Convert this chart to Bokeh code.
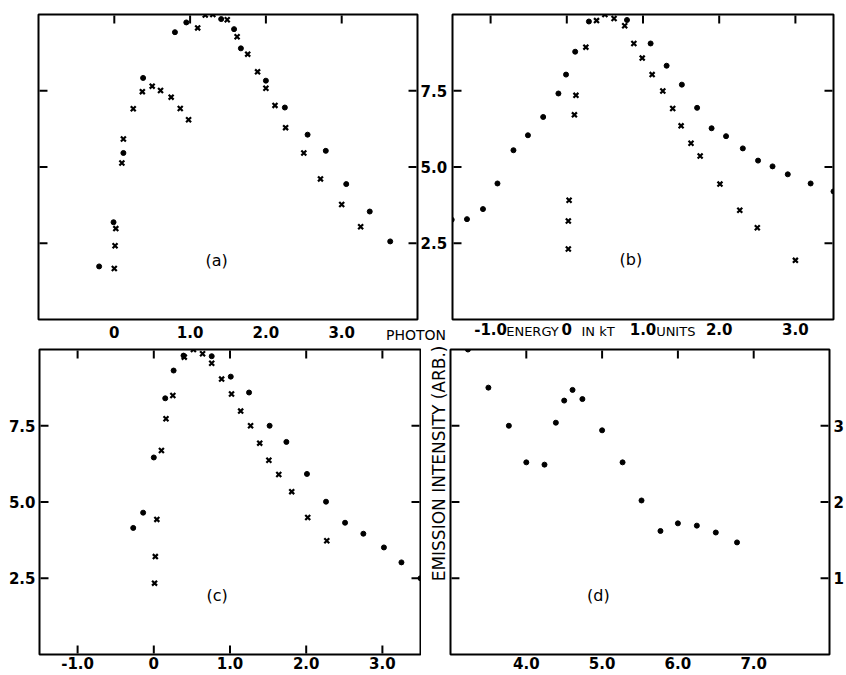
from bokeh.plotting import figure
from bokeh.layouts import row, column
from bokeh.models import LinearAxis, FixedTicker, Range1d, Label, Title
from bokeh.embed import file_html
from bokeh.resources import INLINE

# ---------------- data ----------------
a_dot_x = [-0.20, -0.01, 0.12, 0.38, 0.80, 0.95, 1.41, 1.58, 1.67, 2.00, 2.25, 2.55, 2.79, 3.06, 3.37, 3.64]
a_dot_y = [1.74, 3.19, 5.46, 7.92, 9.42, 9.74, 9.85, 9.52, 8.89, 7.83, 6.95, 6.06, 5.53, 4.44, 3.54, 2.56]
a_x_x = [0.00, 0.01, 0.02, 0.10, 0.12, 0.25, 0.37, 0.50, 0.61, 0.75, 0.87, 0.98, 1.10, 1.20, 1.30,
         1.49, 1.62, 1.76, 1.89, 2.00, 2.12, 2.26, 2.50, 2.72, 3.00, 3.25]
a_x_y = [1.67, 2.42, 2.98, 5.13, 5.92, 6.91, 7.47, 7.65, 7.51, 7.29, 6.92, 6.55, 9.56, 9.98, 10.0,
         9.83, 9.27, 8.70, 8.12, 7.58, 7.02, 6.29, 5.46, 4.61, 3.77, 3.04]

b_dot_x = [-1.51, -1.31, -1.10, -0.91, -0.70, -0.51, -0.31, -0.11, -0.01, 0.11, 0.29, 0.79, 1.10, 1.31,
           1.51, 1.71, 1.90, 2.09, 2.31, 2.51, 2.70, 2.90, 3.20, 3.50]
b_dot_y = [3.27, 3.29, 3.62, 4.46, 5.55, 6.04, 6.64, 7.41, 8.03, 8.78, 9.77, 9.82, 9.05, 8.32,
           7.70, 6.94, 6.27, 6.01, 5.61, 5.21, 5.02, 4.76, 4.46, 4.20]
b_x_x = [0.02, 0.02, 0.03, 0.10, 0.12, 0.25, 0.39, 0.50, 0.62, 0.76, 0.88, 0.99, 1.12, 1.26, 1.39,
         1.50, 1.63, 1.75, 2.01, 2.27, 2.50, 3.00]
b_x_y = [2.31, 3.23, 3.91, 6.71, 7.35, 8.93, 9.80, 10.0, 9.87, 9.63, 9.05, 8.57, 8.03, 7.49, 6.92,
         6.35, 5.78, 5.36, 4.44, 3.58, 3.01, 1.94]

c_dot_x = [-0.27, -0.14, 0.00, 0.15, 0.26, 0.39, 0.76, 1.01, 1.25, 1.52, 1.74, 2.01, 2.26, 2.51,
           2.75, 3.02, 3.25, 3.50]
c_dot_y = [4.15, 4.65, 6.46, 8.40, 9.31, 9.80, 9.78, 9.11, 8.59, 7.50, 6.97, 5.92, 5.01, 4.32,
           3.96, 3.51, 3.02, 2.50]
c_x_x = [0.01, 0.02, 0.04, 0.10, 0.16, 0.25, 0.40, 0.52, 0.64, 0.76, 0.89, 1.02, 1.14, 1.27, 1.39,
         1.51, 1.64, 1.81, 2.02, 2.27]
c_x_y = [2.34, 3.21, 4.43, 6.69, 7.73, 8.49, 9.75, 10.0, 9.86, 9.55, 9.03, 8.54, 7.98, 7.50, 6.93,
         6.37, 5.90, 5.34, 4.49, 3.73]

d_dot_x = [3.23, 3.50, 3.77, 4.00, 4.24, 4.39, 4.50, 4.61, 4.74, 5.00, 5.27, 5.52, 5.77, 6.00,
           6.25, 6.50, 6.78]
d_dot_y = [4.00, 3.50, 3.00, 2.52, 2.49, 3.04, 3.33, 3.47, 3.35, 2.94, 2.52, 2.02, 1.62, 1.72,
           1.69, 1.60, 1.47]

# tick values and labels
a_xticks = [0, 1, 2, 3]
a_xlabels = ["0", "1.0", "2.0", "3.0"]
bc_xticks = [-1, 0, 1, 2, 3]
bc_xlabels = ["-1.0", "0", "1.0", "2.0", "3.0"]
d_xticks = [4, 5, 6, 7]
d_xlabels = ["4.0", "5.0", "6.0", "7.0"]
abc_yticks = [2.5, 5.0, 7.5]
abc_ylabels = ["2.5", "5.0", "7.5"]
d_yticks = [1, 2, 3]
d_ylabels = ["1", "2", "3"]

# words of the shared x-axis title, placed between tick labels (x in panel data units)
a_word_x = [3.98]
a_words = ["PHOTON"]
b_word_x = [-0.45, 0.41, 1.43]
b_words = ["ENERGY", "IN kT", "UNITS"]
y_title = "EMISSION INTENSITY (ARB.)"

FONT = "DejaVu Sans"
TICK_SIZE = "15px"
TICK_LEN = 8  # px, inward


def label_axis(ax, ticks, labels, standoff=3, size=TICK_SIZE, style="bold"):
    ax.ticker = FixedTicker(ticks=ticks, minor_ticks=[])
    ax.major_tick_in = 0
    ax.major_tick_out = 0
    ax.minor_tick_in = 0
    ax.minor_tick_out = 0
    ax.major_tick_line_color = None
    ax.minor_tick_line_color = None
    ax.axis_line_color = None
    ax.major_label_text_font = FONT
    ax.major_label_text_font_style = style
    ax.major_label_text_color = "black"
    ax.major_label_text_font_size = size
    ax.major_label_standoff = standoff
    ax.major_label_overrides = {t: l for t, l in zip(ticks, labels)}


def make_panel(frame_w, frame_h, xr, yr, borders):
    p = figure(width=borders[0] + frame_w + borders[1], height=borders[2] + frame_h + borders[3],
               x_range=Range1d(*xr), y_range=Range1d(*yr),
               output_backend="svg", toolbar_location=None,
               min_border_left=borders[0], min_border_right=borders[1],
               min_border_top=borders[2], min_border_bottom=borders[3])
    p.xgrid.visible = False
    p.ygrid.visible = False
    p.xaxis.visible = False
    p.yaxis.visible = False
    p.outline_line_color = "black"
    p.outline_line_width = 2
    p.background_fill_color = "white"
    p.border_fill_color = "white"
    return p


def add_axis(p, side, ticks, labels, standoff=3, size=TICK_SIZE, style="bold"):
    ax = LinearAxis()
    label_axis(ax, ticks, labels, standoff, size, style)
    p.add_layout(ax, side)
    return ax


def frame_ticks(p, frame_w, frame_h, xr, yr, top=(), bottom=(), left=(), right=()):
    """Inward tick marks at the tick values, from 1 px to TICK_LEN+1 px inside the frame."""
    ux = (xr[1] - xr[0]) / frame_w   # data units per screen pixel
    uy = (yr[1] - yr[0]) / frame_h
    xs, ys, ws, hs = [], [], [], []
    for t in top:
        xs.append(t); ys.append(yr[1] - (1 + TICK_LEN / 2) * uy); ws.append(2 * ux); hs.append(TICK_LEN * uy)
    for t in bottom:
        xs.append(t); ys.append(yr[0] + (1 + TICK_LEN / 2) * uy); ws.append(2 * ux); hs.append(TICK_LEN * uy)
    for t in left:
        xs.append(xr[0] + (1 + TICK_LEN / 2) * ux); ys.append(t); ws.append(TICK_LEN * ux); hs.append(2 * uy)
    for t in right:
        xs.append(xr[1] - (1 + TICK_LEN / 2) * ux); ys.append(t); ws.append(TICK_LEN * ux); hs.append(2 * uy)
    p.rect(x=xs, y=ys, width=ws, height=hs, fill_color="black", line_color=None)


def points(p, dx, dy, xx=None, xy=None):
    p.scatter(dx, dy, marker="circle", size=5, fill_color="black", line_color="black")
    if xx is not None:
        p.scatter(xx, xy, marker="x", size=7, line_color="black", line_width=2.2)


def panel_label(p, x, y, text):
    p.add_layout(Label(x=x, y=y, text=text, text_align="center", text_baseline="middle",
                       text_font=FONT, text_font_size="16px", text_color="black"))


# ---------------- panel (a) ----------------
ra, ya = (-1.0, 4.0), (0.0, 10.0)
pa = make_panel(380, 305, ra, ya, (38, 32, 14, 26))
add_axis(pa, "below", a_xticks, a_xlabels, standoff=6)
add_axis(pa, "below", a_word_x, a_words, standoff=-14, size="14px", style="normal")
add_axis(pa, "right", abc_yticks, abc_ylabels, standoff=3)
points(pa, a_dot_x, a_dot_y, a_x_x, a_x_y)
frame_ticks(pa, 380, 305, ra, ya, top=a_xticks, left=abc_yticks, right=abc_yticks)
panel_label(pa, 1.35, 1.93, "(a)")

# ---------------- panel (b) ----------------
rb, yb = (-1.5, 3.5), (0.0, 10.0)
pb = make_panel(381, 305, rb, yb, (2, 13, 14, 26))
add_axis(pb, "below", bc_xticks, bc_xlabels, standoff=3)
add_axis(pb, "below", b_word_x, b_words, standoff=-14, size="13px", style="normal")
points(pb, b_dot_x, b_dot_y, b_x_x, b_x_y)
frame_ticks(pb, 381, 305, rb, yb, top=bc_xticks, left=abc_yticks, right=abc_yticks)
panel_label(pb, 0.84, 1.97, "(b)")

# ---------------- panel (c) ----------------
rc, yc = (-1.5, 3.5), (0.0, 10.0)
pc = make_panel(381, 305, rc, yc, (39, 1, 4, 21))
add_axis(pc, "below", bc_xticks, bc_xlabels, standoff=2)
add_axis(pc, "left", abc_yticks, abc_ylabels, standoff=4)
points(pc, c_dot_x, c_dot_y, c_x_x, c_x_y)
frame_ticks(pc, 381, 305, rc, yc, top=bc_xticks, bottom=bc_xticks, left=abc_yticks, right=abc_yticks)
panel_label(pc, 0.83, 1.93, "(c)")

# ---------------- panel (d) ----------------
rd, yd = (3.0, 8.0), (0.0, 4.0)
pd_ = make_panel(382, 305, rd, yd, (29, 14, 4, 21))
add_axis(pd_, "below", d_xticks, d_xlabels, standoff=2)
add_axis(pd_, "right", d_yticks, d_ylabels, standoff=4)
pd_.add_layout(Title(text=y_title, align="right", offset=-4, standoff=4,
                     text_font=FONT, text_font_size="17px", text_font_style="normal",
                     text_color="black"), "left")
points(pd_, d_dot_x, d_dot_y)
frame_ticks(pd_, 382, 305, rd, yd, top=d_xticks, left=d_yticks, right=d_yticks)
panel_label(pd_, 4.95, 0.78, "(d)")

layout = column(row(pa, pb), row(pc, pd_))

with open("out.html", "w") as f:
    f.write(file_html(layout, INLINE))
